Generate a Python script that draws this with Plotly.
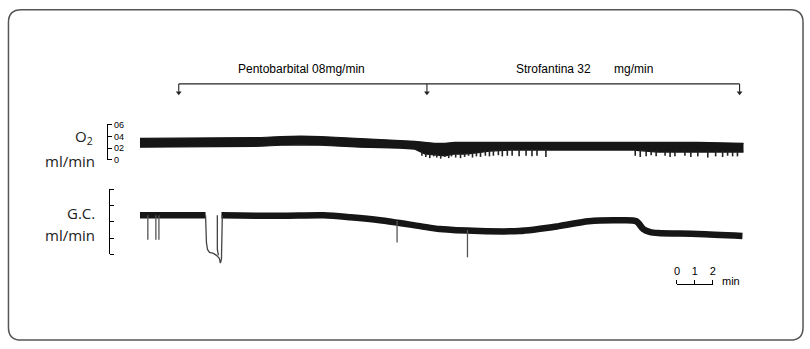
import numpy as np
import plotly.graph_objects as go

W, H = 810, 349

# ---------------- data ----------------
# time in minutes; O2 consumption in ml/min (upper / lower edge of the recorded band)
o2_t = [0.0, 3.44, 6.78, 7.89, 9.0, 10.11, 12.33, 14.56, 15.39, 15.94, 16.5, 17.06,
        17.61, 18.17, 18.72, 19.56, 20.67, 22.89, 25.67, 27.61, 29.0, 31.22, 33.78]
o2_hi = [0.367, 0.375, 0.383, 0.40, 0.408, 0.40, 0.367, 0.333, 0.317, 0.30, 0.283, 0.283,
         0.30, 0.30, 0.30, 0.30, 0.30, 0.30, 0.30, 0.30, 0.30, 0.30, 0.283]
o2_lo = [0.217, 0.225, 0.233, 0.25, 0.258, 0.25, 0.217, 0.20, 0.183, 0.10, 0.083, 0.067,
         0.10, 0.10, 0.117, 0.15, 0.167, 0.167, 0.167, 0.167, 0.133, 0.133, 0.133]

o2_spike_t = [15.78, 16.00, 16.22, 16.44, 16.61, 16.83, 17.06, 17.28, 17.44, 17.67,
              17.94, 18.17, 18.39, 18.61, 18.83, 19.06, 19.33, 19.56, 19.78, 20.06,
              20.28, 20.56, 20.83, 21.22, 21.61, 21.94, 22.22, 22.72,
              27.72, 28.00, 28.33, 28.61, 28.89, 29.39, 29.67, 29.94, 30.50, 30.83,
              31.22, 31.78, 32.22, 32.61, 32.89, 33.17, 33.44]
o2_spike_min = [0.07, 0.05, 0.03, 0.06, 0.04, 0.02, 0.05, 0.03, 0.06, 0.04,
                0.03, 0.05, 0.07, 0.04, 0.06, 0.05, 0.07, 0.06, 0.07, 0.08,
                0.06, 0.07, 0.07, 0.06, 0.07, 0.06, 0.07, 0.05,
                0.07, 0.05, 0.06, 0.08, 0.06, 0.07, 0.05, 0.06, 0.07, 0.05,
                0.06, 0.04, 0.06, 0.05, 0.07, 0.06, 0.06]

# cardiac output (G.C.), scale units 0-4
gc_t = [0.0, 3.67, None, 4.56, 7.89, 10.28, 11.78, 13.44, 15.67, 16.78, 19.0,
        21.22, 23.44, 25.11, 26.78, 27.78, 28.17, 28.56, 29.0, 31.22, 33.72]
gc_v = [2.39, 2.39, None, 2.39, 2.36, 2.39, 2.27, 2.09, 1.73, 1.55, 1.43,
        1.43, 1.73, 2.03, 2.09, 2.03, 1.55, 1.37, 1.31, 1.25, 1.13]

gc_dip_t = [3.67, 3.72, 3.78, 3.89, 4.11, 4.28, 4.44, 4.50, 4.56, 4.58, 4.61,
            None, 4.33, 4.33, 4.39]
gc_dip_v = [2.39, 0.72, 0.30, 0.12, 0.06, -0.06, -0.24, -0.54, -0.30, 1.01, 2.39,
            None, 2.39, 0.30, -0.06]

gc_spike_t = [0.44, 0.89, 1.06, 14.39, 18.33]
gc_spike_top = [2.39, 2.39, 2.39, 2.05, 1.50]
gc_spike_min = [0.90, 0.90, 0.90, 0.72, -0.18]

event_t = [2.17, 16.06, 33.56]
event_labels = ["Pentobarbital 08mg/min", "Strofantina 32", "mg/min"]
event_label_t = [9.06, 23.15, 27.6]

o2_ticks = [0, 0.2, 0.4, 0.6]
o2_ticktext = ["0", "02", "04", "06"]
gc_ticks = [0, 1, 2, 3, 4]
scale_ticks = [0, 1, 2]

# ---------------- layout helpers (pixel -> paper / axis) ----------------
def px(x):
    return x / W

def py(y):
    return (H - y) / H

def o2_at_px(y):
    return (160 - y) / 60.0

INK = "#161616"
COND = "Liberation Sans, Arial, sans-serif"
SANS = "Open Sans, Noto Sans, sans-serif"

fig = go.Figure()

# O2 band
fig.add_trace(go.Scatter(x=o2_t, y=o2_lo, mode="lines", xaxis="x", yaxis="y",
                         line=dict(color=INK, width=1.2), hoverinfo="skip"))
fig.add_trace(go.Scatter(x=o2_t, y=o2_hi, mode="lines", xaxis="x", yaxis="y",
                         fill="tonexty", fillcolor=INK,
                         line=dict(color=INK, width=1.2), hoverinfo="skip"))
sx, sy = [], []
for t, b in zip(o2_spike_t, o2_spike_min):
    top = float(np.interp(t, o2_t, o2_lo)) + 0.02
    sx += [t, t, None]
    sy += [top, b, None]
fig.add_trace(go.Scatter(x=sx, y=sy, mode="lines", xaxis="x", yaxis="y",
                         line=dict(color="#222", width=1.6), hoverinfo="skip"))

# G.C. trace
fig.add_trace(go.Scatter(x=gc_t, y=gc_v, mode="lines", xaxis="x", yaxis="y2",
                         line=dict(color=INK, width=6.5, shape="spline", smoothing=0.8),
                         hoverinfo="skip"))
fig.add_trace(go.Scatter(x=gc_dip_t, y=gc_dip_v, mode="lines", xaxis="x", yaxis="y2",
                         line=dict(color="#444", width=1.3), hoverinfo="skip"))
gx, gy = [], []
for t, a, b in zip(gc_spike_t, gc_spike_top, gc_spike_min):
    gx += [t, t, None]
    gy += [a, b, None]
fig.add_trace(go.Scatter(x=gx, y=gy, mode="lines", xaxis="x", yaxis="y2",
                         line=dict(color="#555", width=1.3), hoverinfo="skip"))

# event arrows: stems + triangle heads
ax_, ay_ = [], []
for t in event_t:
    ax_ += [t, t, None]
    ay_ += [o2_at_px(82), o2_at_px(90), None]
fig.add_trace(go.Scatter(x=ax_, y=ay_, mode="lines", xaxis="x", yaxis="y",
                         line=dict(color="#222", width=1.1), hoverinfo="skip"))
fig.add_trace(go.Scatter(x=event_t, y=[o2_at_px(91)] * len(event_t), mode="markers",
                         xaxis="x", yaxis="y",
                         marker=dict(symbol="triangle-down", size=5, color="#222"),
                         hoverinfo="skip"))

# dummy traces that hold the bracket / scale axes
fig.add_trace(go.Scatter(x=[None], y=[None], xaxis="x", yaxis="y3", showlegend=False))
fig.add_trace(go.Scatter(x=[None], y=[None], xaxis="x", yaxis="y4", showlegend=False))
fig.add_trace(go.Scatter(x=[None], y=[None], xaxis="x2", yaxis="y", showlegend=False))

x0 = -138 / 18.0
fig.update_layout(
    width=W, height=H,
    margin=dict(l=0, r=0, t=0, b=0, pad=0),
    paper_bgcolor="white", plot_bgcolor="rgba(0,0,0,0)",
    showlegend=False,
    xaxis=dict(domain=[0, 1], range=[x0, x0 + W / 18.0], visible=False),
    yaxis=dict(domain=[0, 1], range=[(160 - H) / 60.0, 160 / 60.0], visible=False),
    yaxis2=dict(overlaying="y", range=[(257 - H) / 16.75, 257 / 16.75], visible=False),
    yaxis3=dict(anchor="free", position=px(105), side="right",
                domain=[py(160), py(123)], range=[0, 0.6 * 37 / 36],
                showline=True, linecolor="black", linewidth=1,
                ticks="outside", ticklen=4, tickwidth=1, tickcolor="black",
                tickvals=o2_ticks, ticktext=o2_ticktext, showgrid=False, zeroline=False,
                tickfont=dict(family="Liberation Sans Narrow, Liberation Sans, sans-serif",
                              size=9, color="black")),
    yaxis4=dict(anchor="free", position=px(107), side="right",
                domain=[py(257), py(190)], range=[0, 4],
                showline=True, linecolor="black", linewidth=1,
                ticks="outside", ticklen=4, tickwidth=1, tickcolor="black",
                tickvals=gc_ticks, showticklabels=False, showgrid=False, zeroline=False),
    xaxis2=dict(anchor="free", position=py(287), side="top",
                domain=[px(679), px(715)], range=[0, 2],
                showline=True, linecolor="black", linewidth=1,
                ticks="outside", ticklen=4, tickwidth=1, tickcolor="black",
                tickvals=scale_ticks, showgrid=False, zeroline=False,
                tickfont=dict(family=COND, size=11, color="black")),
)

fig.add_shape(type="line", xref="x", yref="paper", x0=event_t[0], x1=event_t[-1],
              y0=py(82), y1=py(82), line=dict(color="#222", width=1.3))
for t, lab in zip(event_label_t, event_labels):
    fig.add_annotation(x=t, y=py(67), xref="x", yref="paper", text=lab,
                       showarrow=False, xanchor="center", yanchor="middle",
                       font=dict(family=COND, size=12, color="black"))

fig.add_annotation(x=px(93), y=py(150), xref="paper", yref="paper", text="O<sub>2</sub>",
                   showarrow=False, xanchor="right", yanchor="bottom",
                   font=dict(family=SANS, size=15, color="#222"))
left = [("ml/min", 95, 161), ("G.C.", 95, 215), ("ml/min", 95, 237)]
for txt, xr, yc in left:
    fig.add_annotation(x=px(xr), y=py(yc), xref="paper", yref="paper", text=txt,
                       showarrow=False, xanchor="right", yanchor="middle",
                       font=dict(family=SANS, size=15, color="#222"))

fig.add_annotation(x=px(722), y=py(284), xref="paper", yref="paper", text="min",
                   showarrow=False, xanchor="left", yanchor="middle",
                   font=dict(family=COND, size=11, color="black"))

# rounded frame
L, T, R, B, r = 5.5, 6, 806, 345, 13
path = (f"M {px(L+r)},{py(T)} L {px(R-r)},{py(T)} Q {px(R)},{py(T)} {px(R)},{py(T+r)} "
        f"L {px(R)},{py(B-r)} Q {px(R)},{py(B)} {px(R-r)},{py(B)} "
        f"L {px(L+r)},{py(B)} Q {px(L)},{py(B)} {px(L)},{py(B-r)} "
        f"L {px(L)},{py(T+r)} Q {px(L)},{py(T)} {px(L+r)},{py(T)} Z")
fig.add_shape(type="path", xref="paper", yref="paper", path=path,
              line=dict(color="#555", width=1.5))

fig.write_html("out.html")
